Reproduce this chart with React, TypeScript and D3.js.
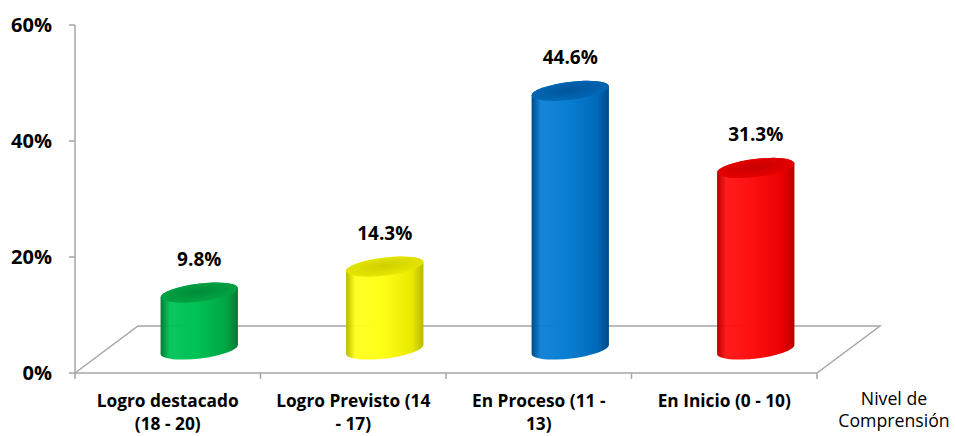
import React from "react";
import * as d3 from "d3";

const categories = ["Logro destacado (18 - 20)", "Logro Previsto (14 - 17)", "En Proceso (11 - 13)", "En Inicio (0 - 10)"];
const labelLines = [["Logro destacado", "(18 - 20)"], ["Logro Previsto (14", "- 17)"], ["En Proceso (11 -", "13)"], ["En Inicio (0 - 10)"]];
const values = [9.8, 14.3, 44.6, 31.3];
const yTicks = [0, 20, 40, 60];
const palettes = [
  { edge: "#007a33", mid: "#00c257", top: "#00a544", topDark: "#008c3a" },
  { edge: "#b9b900", mid: "#ffff1a", top: "#e9e900", topDark: "#cfcf00" },
  { edge: "#004a8a", mid: "#0a7ed4", top: "#0069b8", topDark: "#00559a" },
  { edge: "#b80000", mid: "#ff1010", top: "#e80000", topDark: "#c80000" },
];

const W = 955, H = 436;
const FONT = "'Open Sans', Lato, sans-serif";

export default function App() {
  const x0 = 75, x1 = 817, yBase = 373;
  const dx = 63, dy = -47;
  const x = d3.scaleBand<string>().domain(categories).range([x0, x1]).paddingInner(0).paddingOuter(0);
  const y = d3.scaleLinear().domain([0, 60]).range([yBase, 25]);
  const bw = x.bandwidth();
  const rx = bw * 0.21;
  const ry = 9;
  const rot = -7;
  const rad = (rot * Math.PI) / 180;
  const ox = rx * Math.cos(rad), oy = rx * Math.sin(rad);

  return (
    <svg width={W} height={H} style={{ position: "absolute", left: 0, top: 0, background: "#fff" }}>
      <defs>
        {palettes.map((p, i) => (
          <React.Fragment key={i}>
            <linearGradient id={`body${i}`} x1="0" x2="1" y1="0" y2="0">
              <stop offset="0" stopColor={p.edge} />
              <stop offset="0.12" stopColor={p.mid} stopOpacity="0.95" />
              <stop offset="0.45" stopColor={p.mid} />
              <stop offset="0.85" stopColor={p.top} />
              <stop offset="1" stopColor={p.edge} />
            </linearGradient>
            <radialGradient id={`top${i}`} cx="0.5" cy="0.45" r="0.6">
              <stop offset="0" stopColor={p.topDark} />
              <stop offset="1" stopColor={p.top} />
            </radialGradient>
          </React.Fragment>
        ))}
      </defs>
      {/* floor */}
      <path
        d={`M${x0},${yBase} L${x0 + dx},${yBase + dy} L${x1 + dx},${yBase + dy} L${x1},${yBase}`}
        fill="none"
        stroke="#a6a6a6"
        strokeWidth={1.5}
      />
      {/* y axis */}
      <line x1={x0} x2={x0} y1={y(60)} y2={yBase} stroke="#a6a6a6" strokeWidth={1.5} />
      {yTicks.map((t) => (
        <g key={t}>
          <line x1={x0 - 6} x2={x0} y1={y(t)} y2={y(t)} stroke="#a6a6a6" strokeWidth={1.5} />
          <text x={52} y={y(t)} dy="0.36em" textAnchor="end" fontFamily={FONT} fontWeight="bold" fontSize={20} fill="#000">
            {t}%
          </text>
        </g>
      ))}
      {/* x axis */}
      <line x1={x0} x2={x1} y1={yBase} y2={yBase} stroke="#a6a6a6" strokeWidth={1.5} />
      {[...categories.map((c) => x(c)!), x1].map((t, i) => (
        <line key={i} x1={t} x2={t} y1={yBase} y2={yBase + 6} stroke="#a6a6a6" strokeWidth={1.5} />
      ))}
      {/* bars */}
      {categories.map((c, i) => {
        const cx = x(c)! + bw / 2 + dx / 2;
        const yb = yBase + dy / 2;
        const yt = yb - (yBase - y(values[i]));
        const body = `M${cx - ox},${yt - oy} L${cx - ox},${yb - oy} A${rx},${ry} ${rot} 0 0 ${cx + ox},${yb + oy} L${cx + ox},${yt + oy} A${rx},${ry} ${rot} 0 0 ${cx - ox},${yt - oy} Z`;
        return (
          <g key={c}>
            <path d={body} fill={`url(#body${i})`} />
            <ellipse cx={cx} cy={yt} rx={rx} ry={ry} transform={`rotate(${rot},${cx},${yt})`} fill={`url(#top${i})`} />
            <text x={cx} y={yt - 27} textAnchor="middle" fontFamily={FONT} fontWeight="bold" fontSize={19} fill="#000">
              {values[i].toFixed(1)}%
            </text>
          </g>
        );
      })}
      {/* category labels */}
      {categories.map((c, i) => (
        <text key={c} textAnchor="middle" fontFamily={FONT} fontWeight="bold" fontSize={17.3} fill="#000">
          {labelLines[i].map((l, j) => (
            <tspan key={j} x={x(c)! + bw / 2} y={407 + j * 23}>
              {l}
            </tspan>
          ))}
        </text>
      ))}
      <text textAnchor="middle" fontFamily={FONT} fontSize={17.7} fill="#000">
        <tspan x={894} y={405}>Nivel de</tspan>
        <tspan x={894} y={427}>Comprensión</tspan>
      </text>
    </svg>
  );
}
